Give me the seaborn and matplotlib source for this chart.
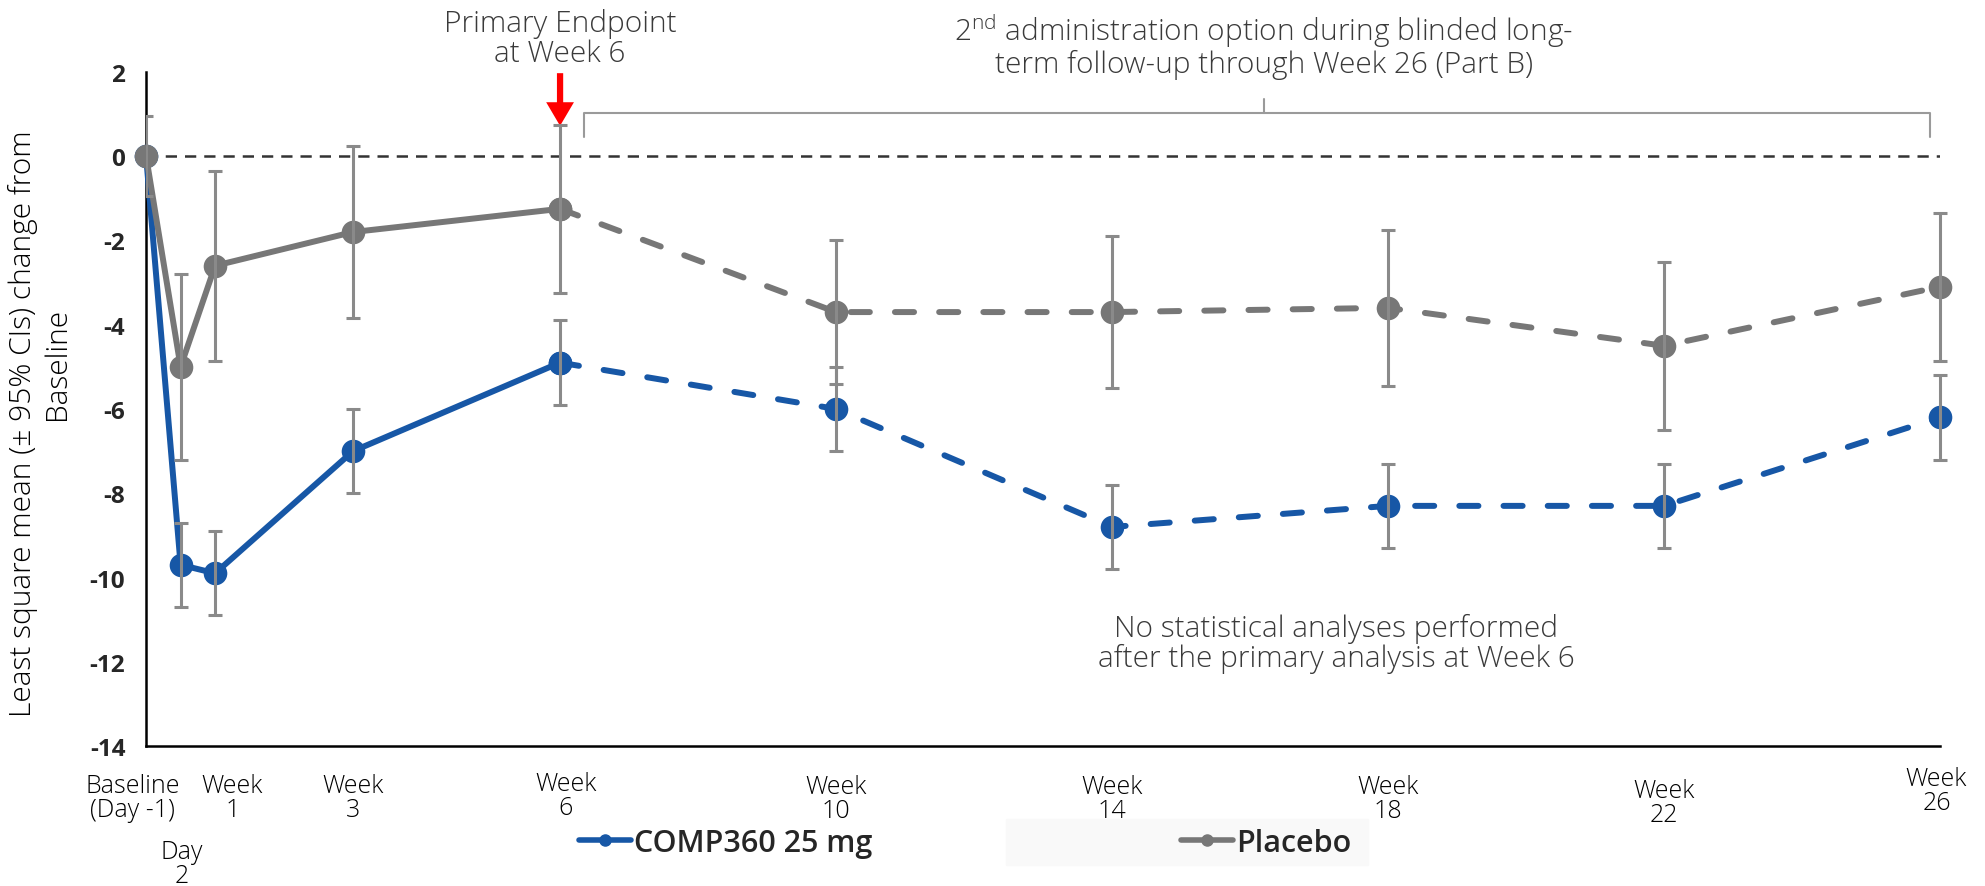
import numpy as np
import pandas as pd
import matplotlib
matplotlib.use('Agg')
import matplotlib.pyplot as plt
import seaborn as sns
from matplotlib.lines import Line2D
from matplotlib.patches import Rectangle

# values (LS mean change from baseline, +/- 95% CI half width)
weeks = [0, 0.5, 1, 3, 6, 10, 14, 18, 22, 26]
comp_mean = [0, -9.7, -9.9, -7.0, -4.9, -6.0, -8.8, -8.3, -8.3, -6.2]
comp_ci = [0, 1.0, 1.0, 1.0, 1.0, 1.0, 1.0, 1.0, 1.0, 1.0]
pbo_mean = [0, -5.0, -2.6, -1.8, -1.25, -3.7, -3.7, -3.6, -4.5, -3.1]
pbo_ci = [0.95, 2.2, 2.25, 2.05, 2.0, 1.7, 1.8, 1.85, 2.0, 1.75]
groups = ['COMP360 25 mg', 'Placebo']
split_week = 6  # solid up to primary endpoint, dashed afterwards

x_labels = ['Baseline\n(Day -1)', 'Day\n2', 'Week\n1', 'Week\n3', 'Week\n6',
            'Week\n10', 'Week\n14', 'Week\n18', 'Week\n22', 'Week\n26']
# where each label sits (week position, pixels below the axis)
x_label_pos = [-0.2, 0.52, 1.25, 3, 6.08, 10, 14, 18, 22, 25.95]
x_label_drop = [27, 93, 27, 27, 25, 28, 28, 28, 32, 20]

colors = {'COMP360 25 mg': '#1757a6', 'Placebo': '#777777'}
err_color = '#8a8a8a'
text_color = '#3a3a3a'

sns.set_style('white')
plt.rcParams['font.family'] = ['Open Sans', 'DejaVu Sans']
plt.rcParams['axes.unicode_minus'] = False
plt.rcParams['mathtext.fontset'] = 'custom'
plt.rcParams['mathtext.rm'] = 'Open Sans:light'

# long table: Part A (to week 6) and Part B (week 6 on)
rows = []
for g, means in zip(groups, [comp_mean, pbo_mean]):
    for w, m in zip(weeks, means):
        if w <= split_week:
            rows.append((g, w, m, 'A'))
        if w >= split_week:
            rows.append((g, w, m, 'B'))
df = pd.DataFrame(rows, columns=['group', 'week', 'value', 'phase'])

fig = plt.figure(figsize=(19.85, 8.87), dpi=100)
ax = fig.add_axes([0.0736, 0.1578, 0.9037, 0.760])

sns.lineplot(data=df, x='week', y='value', hue='group', style='phase',
             palette=colors, dashes={'A': '', 'B': (3.2, 4.2)},
             markers={'A': 'o', 'B': 'o'}, markersize=17, markeredgewidth=0,
             linewidth=4.3, dash_capstyle='round', estimator=None, sort=False,
             legend=False, clip_on=False, zorder=3, ax=ax)

# confidence intervals; the baseline one is cut by the y axis as in the source
w_arr = np.array(weeks)
for means, cis in [(comp_mean, comp_ci), (pbo_mean, pbo_ci)]:
    means, cis = np.array(means), np.array(cis)
    for sel, clip in [((cis > 0) & (w_arr > 0), False), ((cis > 0) & (w_arr == 0), True)]:
        if not sel.any():
            continue
        eb = ax.errorbar(w_arr[sel], means[sel], yerr=cis[sel], fmt='none',
                         ecolor=err_color, elinewidth=2.2, capsize=5,
                         capthick=2.2, zorder=6)
        for art in list(eb.lines[1]) + list(eb.lines[2]):
            art.set_clip_on(clip)

ax.axhline(0, color='#333333', lw=1.8, dashes=(4.5, 3.2), zorder=2)

ax.set_xlim(0, 26)
ax.set_ylim(-14, 2)
ax.set_yticks(range(-14, 3, 2))
ax.set_xticks(range(0, 27))
ax.set_xticklabels([])
ax.set_xlabel('')
for lab in ax.get_yticklabels():
    lab.set_fontweight('bold')
ax.tick_params(axis='y', labelsize=17.5, length=7, width=1.5, direction='out', color='black', pad=8)
ax.tick_params(axis='x', length=11, width=1.5, direction='out', color='black')
sns.despine(ax=ax)
for s in ['left', 'bottom']:
    ax.spines[s].set_linewidth(1.8)
    ax.spines[s].set_color('black')

# y label: first line as the axis label, second line sits a little higher
ax.set_ylabel('Least square mean (\u00b1 95% CIs) change from',
              fontsize=21.5, fontweight='light', color='black')
ax.yaxis.label.set_va('center')
ax.yaxis.set_label_coords(-0.0685, 0.479)
ax.text(-0.0496, 0.568, 'Baseline', transform=ax.transAxes, rotation=90,
        ha='center', va='center', fontsize=21.5, fontweight='light', color='black')

# category labels under the axis
axis_h = 0.760 * 887
for lab, xp, dy in zip(x_labels, x_label_pos, x_label_drop):
    ax.text(xp, -dy / axis_h, lab, transform=ax.get_xaxis_transform(),
            ha='center', va='top', fontsize=18, fontweight='light',
            color='black', linespacing=0.95)

# annotations
ax.annotate('', xy=(6, 0.72), xytext=(6, 1.97),
            arrowprops=dict(facecolor='#ff0000', edgecolor='none', width=4.5, headwidth=20,
                            headlength=17, shrink=0), annotation_clip=False)
ax.text(6, 2.8, 'Primary Endpoint\nat Week 6', ha='center', va='center',
        fontsize=21.5, fontweight='light', color=text_color, linespacing=1.02)
ax.text(16.2, 2.65, '2$^{\\mathrm{nd}}$ administration option during blinded long-\nterm follow-up through Week 26 (Part B)',
        ha='center', va='center', fontsize=21.5, fontweight='light', color=text_color,
        linespacing=1.02)
ax.plot([6.35, 6.35, 25.86, 25.86], [0.45, 1.02, 1.02, 0.45], color='#9a9a9a',
        lw=1.5, clip_on=False, zorder=2)
ax.plot([16.2, 16.2], [1.02, 1.35], color='#9a9a9a', lw=1.5, clip_on=False)
ax.text(17.25, -11.55, 'No statistical analyses performed\nafter the primary analysis at Week 6',
        ha='center', va='center', fontsize=21.5, fontweight='light', color=text_color,
        linespacing=1.02)

# legend (faint backing box behind the second entry, as in the source image)
fig.patches.append(Rectangle((1006 / 1985, 1 - 866 / 887), 362 / 1985, 46 / 887,
                             transform=fig.transFigure, color='#f9f9f9', zorder=0))
handles = [Line2D([0], [0], color=colors[g], lw=4, marker='o', markersize=8) for g in groups]
fig.legend(handles, groups, loc='center', bbox_to_anchor=(965 / 1985, 0.049), ncol=2,
           frameon=False, handlelength=1.7, handletextpad=0.1, columnspacing=10.1,
           prop={'size': 22, 'weight': 'semibold'})

fig.savefig('out.png', dpi=100)
